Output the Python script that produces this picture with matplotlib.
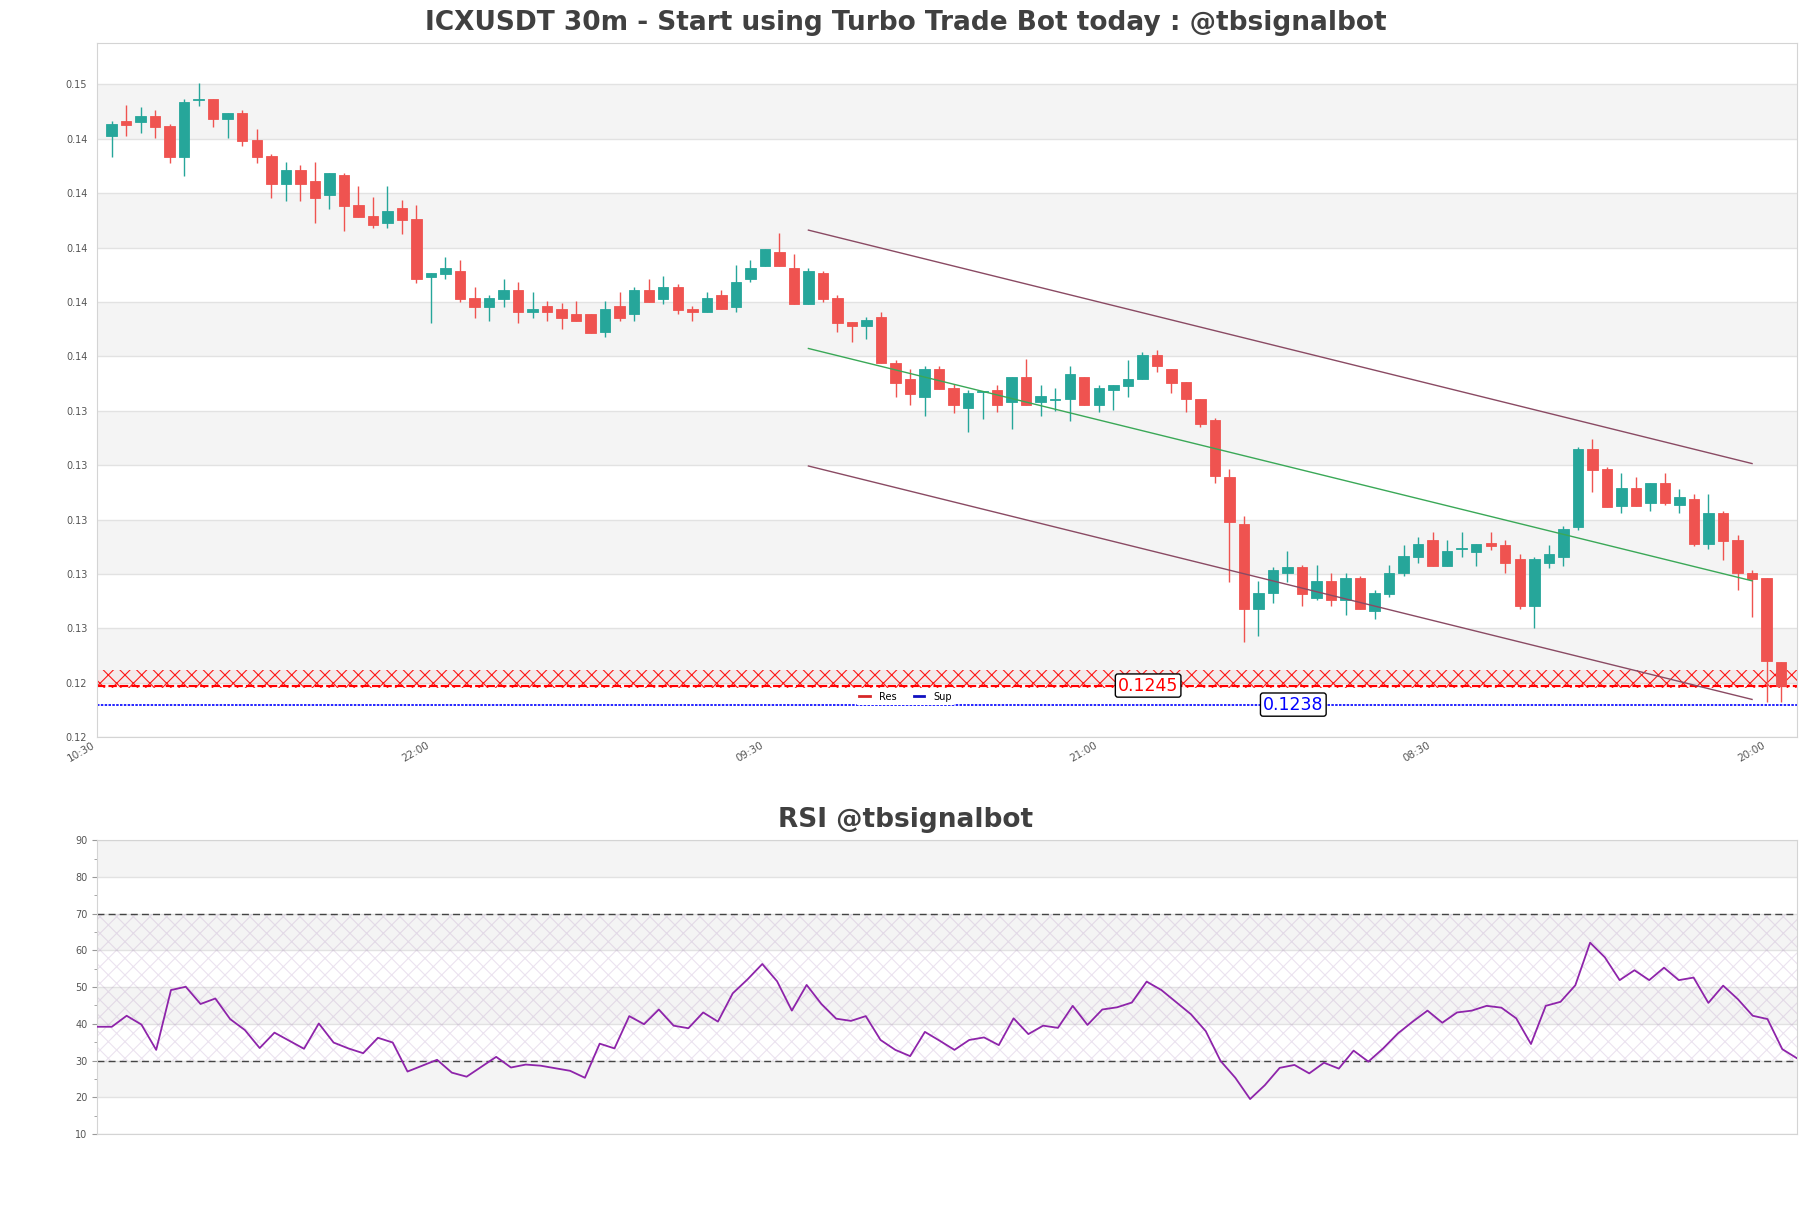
import matplotlib
matplotlib.use('Agg')
import matplotlib.pyplot as plt
from matplotlib.lines import Line2D
from matplotlib.ticker import MultipleLocator
import numpy as np

plt.rcParams['hatch.linewidth'] = 0.8

# ICXUSDT 30m candles, x = 1..116
opens = [0.14470, 0.14525, 0.14521, 0.14544, 0.14507, 0.14394, 0.14603, 0.14606, 0.14534, 0.14555,
         0.14455, 0.14398, 0.14292, 0.14345, 0.14305, 0.14254, 0.14327, 0.14216, 0.14176, 0.14151,
         0.14205, 0.14165, 0.13953, 0.13964, 0.13974, 0.13874, 0.13843, 0.13872, 0.13904, 0.13824,
         0.13845, 0.13834, 0.13816, 0.13816, 0.13751, 0.13845, 0.13814, 0.13904, 0.13872, 0.13916,
         0.13834, 0.13824, 0.13885, 0.13843, 0.13943, 0.13993, 0.14044, 0.13985, 0.13854, 0.13965,
         0.13874, 0.13787, 0.13773, 0.13803, 0.13634, 0.13576, 0.13511, 0.13613, 0.13543, 0.13471,
         0.13530, 0.13536, 0.13493, 0.13584, 0.13493, 0.13500, 0.13502, 0.13584, 0.13483, 0.13535,
         0.13552, 0.13575, 0.13665, 0.13613, 0.13564, 0.13502, 0.13426, 0.13215, 0.13043, 0.12733,
         0.12792, 0.12862, 0.12886, 0.12772, 0.12834, 0.12764, 0.12844, 0.12723, 0.12785, 0.12862,
         0.12923, 0.12985, 0.12890, 0.12952, 0.12941, 0.12975, 0.12966, 0.12915, 0.12743, 0.12902,
         0.12923, 0.13033, 0.13321, 0.13245, 0.13111, 0.13177, 0.13122, 0.13193, 0.13113, 0.13135,
         0.12970, 0.13083, 0.12985, 0.12862, 0.12844, 0.12535]
highs = [0.14525, 0.14584, 0.14578, 0.14566, 0.14514, 0.14605, 0.14664, 0.14606, 0.14555, 0.14566,
         0.14496, 0.14404, 0.14374, 0.14363, 0.14374, 0.14334, 0.14334, 0.14286, 0.14246, 0.14286,
         0.14235, 0.14216, 0.13965, 0.14025, 0.14014, 0.13916, 0.13885, 0.13944, 0.13933, 0.13897,
         0.13863, 0.13855, 0.13863, 0.13816, 0.13863, 0.13895, 0.13914, 0.13944, 0.13955, 0.13926,
         0.13845, 0.13895, 0.13904, 0.13995, 0.14014, 0.14055, 0.14113, 0.14035, 0.13985, 0.13974,
         0.13885, 0.13787, 0.13803, 0.13824, 0.13647, 0.13613, 0.13625, 0.13625, 0.13560, 0.13536,
         0.13533, 0.13554, 0.13584, 0.13652, 0.13554, 0.13542, 0.13625, 0.13584, 0.13554, 0.13554,
         0.13646, 0.13677, 0.13683, 0.13613, 0.13564, 0.13502, 0.13432, 0.13245, 0.13074, 0.12834,
         0.12886, 0.12944, 0.12893, 0.12893, 0.12862, 0.12862, 0.12853, 0.12803, 0.12893, 0.12966,
         0.12997, 0.13013, 0.12985, 0.13015, 0.12972, 0.13015, 0.12985, 0.12933, 0.12923, 0.12966,
         0.13037, 0.13328, 0.13355, 0.13254, 0.13233, 0.13215, 0.13193, 0.13233, 0.13174, 0.13154,
         0.13154, 0.13092, 0.13003, 0.12874, 0.12844, 0.12535]
lows = [0.14394, 0.14470, 0.14482, 0.14464, 0.14372, 0.14324, 0.14582, 0.14503, 0.14464, 0.14434,
        0.14372, 0.14243, 0.14232, 0.14232, 0.14151, 0.14203, 0.14122, 0.14173, 0.14132, 0.14132,
        0.14111, 0.13931, 0.13784, 0.13943, 0.13861, 0.13802, 0.13791, 0.13843, 0.13784, 0.13802,
        0.13791, 0.13762, 0.13791, 0.13745, 0.13732, 0.13791, 0.13791, 0.13861, 0.13854, 0.13814,
        0.13791, 0.13824, 0.13833, 0.13824, 0.13933, 0.13993, 0.13993, 0.13854, 0.13854, 0.13861,
        0.13751, 0.13714, 0.13722, 0.13634, 0.13511, 0.13481, 0.13442, 0.13541, 0.13453, 0.13383,
        0.13429, 0.13454, 0.13393, 0.13483, 0.13442, 0.13460, 0.13423, 0.13483, 0.13454, 0.13462,
        0.13511, 0.13575, 0.13603, 0.13524, 0.13454, 0.13401, 0.13193, 0.12831, 0.12611, 0.12633,
        0.12752, 0.12831, 0.12743, 0.12764, 0.12743, 0.12711, 0.12733, 0.12693, 0.12774, 0.12853,
        0.12902, 0.12890, 0.12890, 0.12923, 0.12890, 0.12948, 0.12862, 0.12733, 0.12662, 0.12883,
        0.12890, 0.13021, 0.13162, 0.13105, 0.13083, 0.13111, 0.13092, 0.13113, 0.13083, 0.12964,
        0.12951, 0.12911, 0.12801, 0.12703, 0.12388, 0.12388]
closes = [0.14513, 0.14510, 0.14544, 0.14503, 0.14394, 0.14595, 0.14605, 0.14534, 0.14555, 0.14453,
          0.14394, 0.14292, 0.14345, 0.14292, 0.14243, 0.14334, 0.14214, 0.14173, 0.14143, 0.14194,
          0.14161, 0.13943, 0.13965, 0.13985, 0.13872, 0.13843, 0.13874, 0.13904, 0.13824, 0.13834,
          0.13824, 0.13802, 0.13791, 0.13745, 0.13834, 0.13802, 0.13904, 0.13861, 0.13916, 0.13830,
          0.13824, 0.13874, 0.13833, 0.13933, 0.13985, 0.14055, 0.13993, 0.13854, 0.13974, 0.13872,
          0.13784, 0.13773, 0.13794, 0.13634, 0.13563, 0.13521, 0.13613, 0.13541, 0.13481, 0.13524,
          0.13533, 0.13483, 0.13584, 0.13483, 0.13514, 0.13502, 0.13595, 0.13483, 0.13542, 0.13554,
          0.13575, 0.13665, 0.13624, 0.13563, 0.13502, 0.13413, 0.13220, 0.13052, 0.12733, 0.12792,
          0.12874, 0.12884, 0.12785, 0.12834, 0.12764, 0.12844, 0.12733, 0.12792, 0.12862, 0.12926,
          0.12972, 0.12890, 0.12944, 0.12954, 0.12972, 0.12964, 0.12902, 0.12743, 0.12915, 0.12933,
          0.13025, 0.13321, 0.13244, 0.13105, 0.13177, 0.13111, 0.13193, 0.13122, 0.13144, 0.12970,
          0.13083, 0.12982, 0.12862, 0.12841, 0.12541, 0.12448]

rsi = [39.2, 39.2, 42.2, 39.8, 32.9, 49.2, 50.1, 45.4, 46.9, 41.3,
       38.3, 33.4, 37.6, 35.4, 33.2, 40.1, 34.9, 33.3, 32.0, 36.2,
       34.9, 27.0, 28.6, 30.2, 26.7, 25.6, 28.3, 31.0, 28.1, 28.9,
       28.6, 27.9, 27.2, 25.3, 34.6, 33.3, 42.1, 39.9, 43.9, 39.5,
       38.8, 43.1, 40.6, 48.3, 52.1, 56.3, 51.6, 43.6, 50.6, 45.4,
       41.4, 40.8, 42.1, 35.6, 32.9, 31.2, 37.8, 35.4, 32.9, 35.6,
       36.3, 34.2, 41.5, 37.2, 39.5, 38.9, 44.9, 39.7, 43.9, 44.5,
       45.8, 51.5, 49.2, 45.9, 42.6, 38.0, 29.9, 25.3, 19.5, 23.3,
       28.0, 28.8, 26.5, 29.4, 27.8, 32.7, 29.7, 33.3, 37.4, 40.6,
       43.6, 40.3, 43.1, 43.6, 44.9, 44.4, 41.5, 34.5, 44.9, 46.0,
       50.5, 62.1, 58.1, 51.9, 54.6, 51.9, 55.3, 51.9, 52.6, 45.7,
       50.4, 46.7, 42.2, 41.3, 33.1, 30.6]

# trend channel (start / end candle, prices)
channel_x = [49, 114]
channel_upper = [0.14124, 0.13266]
channel_mid = [0.13689, 0.12835]
channel_lower = [0.13257, 0.12399]

resistance = 0.1245
res_zone = [0.12441, 0.12507]
support = 0.1238

price_ticks = [0.1226, 0.1246, 0.1266, 0.1286, 0.1306, 0.1326, 0.1346,
               0.1366, 0.1386, 0.1406, 0.1426, 0.1446, 0.1466]
time_ticks = [0, 23, 46, 69, 92, 115]
time_labels = ['10:30', '22:00', '09:30', '21:00', '08:30', '20:00']

GREEN = '#26a69a'
RED = '#ef5350'
BAND = '#f4f4f4'
GRID = '#e2e2e2'
SPINE = '#d4d4d4'
TXT = '#404040'

fig = plt.figure(figsize=(18.11, 12.08), dpi=100)
ax = fig.add_axes([0.0536, 0.3897, 0.9387, 0.5743])
ax2 = fig.add_axes([0.0536, 0.0613, 0.9387, 0.2431])

# ---------------- price panel ----------------
o = np.array(opens)
h = np.array(highs)
l = np.array(lows)
c = np.array(closes)
x = np.arange(1, len(o) + 1)
cols = [GREEN if cc >= oo else RED for oo, cc in zip(o, c)]

for i in range(len(price_ticks) - 1):
    if i % 2 == 1:
        ax.axhspan(price_ticks[i], price_ticks[i + 1], color=BAND, lw=0, zorder=0)

ax.vlines(x, l, h, colors=cols, linewidth=1, zorder=3)
ax.bar(x, np.abs(c - o), bottom=np.minimum(o, c), width=0.72, color=cols,
       edgecolor=cols, linewidth=0.6, zorder=4)

ax.plot(channel_x, channel_upper, color='#8a4a63', lw=1, zorder=5)
ax.plot(channel_x, channel_lower, color='#8a4a63', lw=1, zorder=5)
ax.plot(channel_x, channel_mid, color='#3aa857', lw=1, zorder=5)

ax.axhspan(res_zone[0], res_zone[1], facecolor=(1, 0, 0, 0.04),
           edgecolor=(1, 0, 0, 0.9), hatch='xx', lw=0, zorder=2)
ax.axhline(resistance, color='red', ls='--', dashes=(4, 1.5), lw=1.5, zorder=2)
ax.axhline(support, color='blue', ls='--', dashes=(1.5, 0.8), lw=1.2, zorder=2)

ax.text(72.4, resistance, '0.1245', color='red', fontsize=12.5, ha='center', va='center',
        zorder=7, bbox=dict(boxstyle='round,pad=0.15', fc='white', ec='black', lw=1))
ax.text(82.4, support, '0.1238', color='blue', fontsize=12.5, ha='center', va='center',
        zorder=7, bbox=dict(boxstyle='round,pad=0.15', fc='white', ec='black', lw=1))

handles = [Line2D([0], [0], color='#d62728', lw=2), Line2D([0], [0], color='#1010c0', lw=2)]
leg = ax.legend(handles, ['Res', 'Sup'], loc='center', bbox_to_anchor=(0.5, 0.4233),
                bbox_transform=fig.transFigure, ncol=2, fontsize=7, frameon=True,
                framealpha=1, edgecolor='none', handlelength=1.1, handletextpad=0.9,
                columnspacing=1.8, borderpad=0.3)
leg.set_zorder(6)

ax.set_xlim(0, 117.1)
ax.set_ylim(0.1226, 0.1481)
ax.set_yticks(price_ticks)
ax.set_yticklabels([f'{t:.2f}' for t in price_ticks])
ax.set_xticks(time_ticks)
ax.set_xticklabels(time_labels, rotation=30, ha='right')
ax.yaxis.grid(True, color=GRID, lw=1, zorder=1)
ax.xaxis.grid(False)
ax.set_axisbelow(True)
ax.tick_params(axis='y', length=0, pad=7, labelsize=7, labelcolor='#555555')
ax.tick_params(axis='x', length=0, pad=2, labelsize=7.5, labelcolor='#555555')
for s in ax.spines.values():
    s.set_color(SPINE)

# ---------------- RSI panel ----------------
xr = np.arange(len(rsi))
for lo, hi in [(80, 90), (60, 70), (40, 50), (20, 30)]:
    ax2.axhspan(lo, hi, color=BAND, lw=0, zorder=0)
ax2.axhspan(30, 70, facecolor='none', edgecolor=(0.62, 0.45, 0.7, 0.2), hatch='xx',
            lw=0, zorder=1)
ax2.axhline(70, color='#444444', ls='--', dashes=(5, 3), lw=1, zorder=2)
ax2.axhline(30, color='#444444', ls='--', dashes=(5, 3), lw=1, zorder=2)
ax2.plot(xr, rsi, color='#8e24aa', lw=1.3, zorder=3)

ax2.set_xlim(0, len(rsi) - 1)
ax2.set_ylim(10, 90)
ax2.yaxis.set_major_locator(MultipleLocator(10))
ax2.yaxis.set_minor_locator(MultipleLocator(5))
ax2.yaxis.grid(True, color=GRID, lw=1, zorder=1)
ax2.set_axisbelow(True)
ax2.set_xticks([])
ax2.tick_params(axis='y', which='major', length=3.5, color='#999999', labelsize=7,
                labelcolor='#555555')
ax2.tick_params(axis='y', which='minor', length=2, color='#999999')
for s in ax2.spines.values():
    s.set_color(SPINE)

fig.text(0.5, 1 - 23 / 1208, 'ICXUSDT 30m - Start using Turbo Trade Bot today : @tbsignalbot',
         ha='center', va='center', fontsize=19, fontweight='bold', color=TXT)
fig.text(0.5, 1 - 820 / 1208, 'RSI @tbsignalbot', ha='center', va='center',
         fontsize=19, fontweight='bold', color=TXT)

fig.savefig('out.png', dpi=100)
